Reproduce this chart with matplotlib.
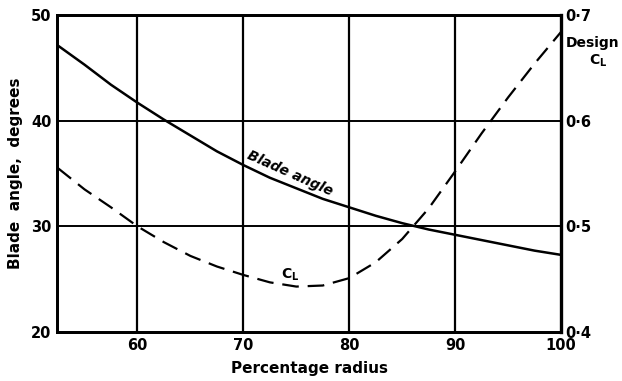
import matplotlib
matplotlib.use("Agg")
import matplotlib.pyplot as plt

# Data
radius = [52.5, 55, 57.5, 60, 62.5, 65, 67.5, 70, 72.5, 75, 77.5, 80, 82.5, 85, 87.5, 90, 92.5, 95, 97.5, 100]
blade_angle = [47.1, 45.3, 43.4, 41.7, 40.1, 38.6, 37.1, 35.8, 34.6, 33.6, 32.6, 31.8, 31.0, 30.3, 29.7, 29.2, 28.7, 28.2, 27.7, 27.3]
design_cl = [0.555, 0.535, 0.518, 0.500, 0.485, 0.472, 0.462, 0.454, 0.447, 0.443, 0.444, 0.451, 0.466, 0.488, 0.517, 0.552, 0.588, 0.622, 0.654, 0.684]

x_ticks = [60, 70, 80, 90, 100]
left_ticks = [20, 30, 40, 50]
right_ticks = [0.4, 0.5, 0.6, 0.7]
right_labels = ["0·4", "0·5", "0·6", "0·7"]

plt.rcParams['font.family'] = ['DejaVu Sans']
fig = plt.figure(figsize=(6.22, 3.81), dpi=100)
ax = fig.add_axes([0.0916, 0.1286, 0.8104, 0.832])
ax2 = ax.twinx()

ax.set_xlim(52.4, 100)
ax.set_ylim(20, 50)
ax2.set_ylim(0.4, 0.7)

for xv in x_ticks[:-1]:
    ax.axvline(xv, color='black', lw=1.6, zorder=1)
for yv in left_ticks[1:-1]:
    ax.axhline(yv, color='black', lw=1.4, zorder=1)

ax.plot(radius, blade_angle, color='black', lw=1.8, zorder=3)
ax2.plot(radius, design_cl, color='black', lw=1.6, dashes=(7.5, 4), zorder=3)

for a in (ax, ax2):
    for s in a.spines.values():
        s.set_linewidth(2.0)
ax2.spines['right'].set_linewidth(2.4)

ax.set_xticks(x_ticks)
ax.set_xticklabels([str(v) for v in x_ticks], fontsize=10.5, fontweight='bold')
ax.set_yticks(left_ticks)
ax.set_yticklabels([str(v) for v in left_ticks], fontsize=10.5, fontweight='bold')
ax2.set_yticks(right_ticks)
ax2.set_yticklabels(right_labels, fontsize=10.5, fontweight='bold')
ax.tick_params(length=0, pad=4)
ax2.tick_params(length=0, pad=3)

ax.set_xlabel("Percentage radius", fontsize=11, fontweight='bold', labelpad=6)
ax.set_ylabel("Blade  angle,  degrees", fontsize=11, fontweight='bold', labelpad=6)

ax.text(74.4, 35.0, "Blade angle", rotation=-24, fontsize=10, fontstyle='italic',
        fontweight='bold', ha='center', va='center', rotation_mode='anchor')
ax.text(74.4, 25.4, r"C$_{\mathbf{L}}$", fontsize=10, fontweight='bold', ha='center', va='center')
fig.text(0.953, 0.887, "Design", fontsize=10, fontweight='bold', ha='center', va='center')
fig.text(0.961, 0.840, r"C$_{\mathbf{L}}$", fontsize=10, fontweight='bold', ha='center', va='center')

fig.savefig("out.png", dpi=100)
